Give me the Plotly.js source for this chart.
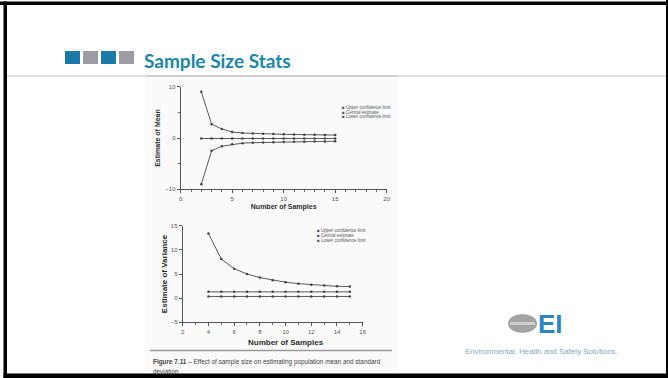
<!DOCTYPE html>
<html>
<head>
<meta charset="utf-8">
<script src="https://cdn.plot.ly/plotly-3.0.1.min.js"></script>
<style>
html,body{margin:0;padding:0;background:#fff;}
#chart{width:668px;height:378px;}
</style>
</head>
<body>
<div id="chart"></div>
<script>
// ---- Data ----
var meanSamples = [2,3,4,5,6,7,8,9,10,11,12,13,14,15];
var meanUpper   = [9.0,2.7,1.75,1.17,0.97,0.88,0.82,0.77,0.72,0.68,0.65,0.62,0.59,0.57];
var meanCentral = [-0.1,-0.1,-0.1,-0.1,-0.1,-0.1,-0.1,-0.1,-0.1,-0.1,-0.1,-0.1,-0.1,-0.1];
var meanLower   = [-9.0,-2.5,-1.6,-1.23,-1.0,-0.92,-0.86,-0.81,-0.77,-0.74,-0.71,-0.68,-0.66,-0.64];

var varSamples = [4,5,6,7,8,9,10,11,12,13,14,15];
var varUpper   = [13.4,8.1,6.1,5.0,4.25,3.7,3.3,3.0,2.8,2.6,2.45,2.4];
var varCentral = [1.3,1.3,1.3,1.3,1.3,1.3,1.3,1.3,1.3,1.3,1.3,1.3];
var varLower   = [0.35,0.35,0.35,0.35,0.35,0.35,0.35,0.35,0.35,0.35,0.35,0.35];

var legendLabels = ["Upper confidence limit","Central estimate","Lower confidence limit"];
var xTitle = "Number of Samples";
var slideTitle = "Sample Size Stats";
var captionBold = "Figure 7.11";
var captionText = " – Effect of sample size on estimating population mean and standard";
var captionText2 = "deviation";
var logoText = "EI";
var logoTagline = "Environmental, Health and Safety Solutions.";

// ---- helpers: pixel -> paper ----
var W = 668, H = 378;
function px(x){ return x / W; }
function py(y){ return 1 - y / H; }

var lineCol = '#5a5a5a';
function series(x, y, xa, ya, name){
  return {x:x, y:y, xaxis:xa, yaxis:ya, name:name, type:'scatter', mode:'lines+markers',
          line:{color:lineCol, width:1}, marker:{color:'#444', size:2.5, symbol:'circle'},
          showlegend:false, hoverinfo:'x+y'};
}

var data = [
  series(meanSamples, meanUpper, 'x', 'y', legendLabels[0]),
  series(meanSamples, meanCentral, 'x', 'y', legendLabels[1]),
  series(meanSamples, meanLower, 'x', 'y', legendLabels[2]),
  series(varSamples, varUpper, 'x2', 'y2', legendLabels[0]),
  series(varSamples, varCentral, 'x2', 'y2', legendLabels[1]),
  series(varSamples, varLower, 'x2', 'y2', legendLabels[2])
];

var fam = 'Liberation Sans, Arial, sans-serif';
var axFont = {family:fam, size:6, color:'#555'};
var titleFont = {family:fam, size:7, color:'#2e2e2e'};
function axis(opts){
  var base = {showline:true, linecolor:'#555', linewidth:1, showgrid:false, zeroline:false,
              ticks:'outside', ticklen:3, tickwidth:1, tickcolor:'#555', tickfont:axFont,
              fixedrange:true, automargin:false};
  for (var k in opts) base[k] = opts[k];
  return base;
}

var annotations = [];
function legendAnn(xp, yps, size){
  for (var i=0;i<legendLabels.length;i++){
    annotations.push({xref:'paper', yref:'paper', x:px(xp), y:py(yps[i]), xanchor:'left', yanchor:'middle',
      text:'■ ' + legendLabels[i], showarrow:false, font:{family:fam, size:size, color:'#555'}});
  }
}
legendAnn(340, [107.5, 112, 116.5], 4.5);
legendAnn(315, [230.5, 235.5, 240.5], 4.5);

// bottom chart x title (centred under x = 10 as in the scan)
annotations.push({xref:'x2', yref:'paper', x:10, y:py(342), xanchor:'center', yanchor:'middle',
  text:'<b>'+xTitle+'</b>', showarrow:false, font:{family:fam, size:8, color:'#2e2e2e'}});

// slide title
annotations.push({xref:'paper', yref:'paper', x:px(142), y:py(60), xanchor:'left', yanchor:'middle',
  text:'<b>'+slideTitle+'</b>', showarrow:false, font:{family:'Lato, Open Sans, sans-serif', size:19, color:'#1a85ad'}});
// caption
annotations.push({xref:'paper', yref:'paper', x:px(151), y:py(361.5), xanchor:'left', yanchor:'middle',
  text:'<b>'+captionBold+'</b>'+captionText, showarrow:false, font:{family:fam, size:6.4, color:'#444'}});
annotations.push({xref:'paper', yref:'paper', x:px(151), y:py(371.5), xanchor:'left', yanchor:'middle',
  text:captionText2, showarrow:false, font:{family:fam, size:6.4, color:'#444'}});
// logo
annotations.push({xref:'paper', yref:'paper', x:px(536), y:py(324), xanchor:'left', yanchor:'middle',
  text:'<b>'+logoText+'</b>', showarrow:false, font:{family:fam, size:26, color:'#2c86c4'}});
annotations.push({xref:'paper', yref:'paper', x:px(541), y:py(351.5), xanchor:'center', yanchor:'middle',
  text:logoTagline, showarrow:false, font:{family:fam, size:7.8, color:'#86a9c4'}});

var shapes = [
  // scanned figure background
  {type:'rect', xref:'paper', yref:'paper', x0:px(145), x1:px(398), y0:py(373), y1:py(77), fillcolor:'#fafafa', line:{width:0}, layer:'below'},
  // slide separator line
  {type:'line', xref:'paper', yref:'paper', x0:px(7), x1:px(668), y0:py(76), y1:py(76), line:{color:'#e3e3e3', width:2}},
  {type:'line', xref:'paper', yref:'paper', x0:px(145), x1:px(398), y0:py(76), y1:py(76), line:{color:'#d0d0d0', width:2}},
  // figure separator under bottom chart
  {type:'line', xref:'paper', yref:'paper', x0:px(150), x1:px(392), y0:py(350.5), y1:py(350.5), line:{color:'#9a9a9a', width:1.5}},
  // title squares
  {type:'rect', xref:'paper', yref:'paper', x0:px(65), x1:px(80), y0:py(64), y1:py(51), fillcolor:'#1b7ba8', line:{width:0}},
  {type:'rect', xref:'paper', yref:'paper', x0:px(83), x1:px(98), y0:py(64), y1:py(51), fillcolor:'#9c9ca2', line:{width:0}},
  {type:'rect', xref:'paper', yref:'paper', x0:px(101), x1:px(116), y0:py(64), y1:py(51), fillcolor:'#1b7ba8', line:{width:0}},
  {type:'rect', xref:'paper', yref:'paper', x0:px(119), x1:px(134), y0:py(64), y1:py(51), fillcolor:'#9c9ca2', line:{width:0}},
  // logo ellipse
  {type:'circle', xref:'paper', yref:'paper', x0:px(508), x1:px(537), y0:py(333), y1:py(314), fillcolor:'#a3a3a3', line:{width:0}},
  {type:'rect', xref:'paper', yref:'paper', x0:px(510), x1:px(535), y0:py(325), y1:py(322), fillcolor:'#cfcfcf', line:{width:0}},
  // black frame
  {type:'rect', xref:'paper', yref:'paper', x0:0, x1:1, y0:py(5), y1:py(1.5), fillcolor:'#000', line:{width:0}},
  {type:'rect', xref:'paper', yref:'paper', x0:px(3.5), x1:px(7), y0:0, y1:py(1.5), fillcolor:'#000', line:{width:0}},
  {type:'rect', xref:'paper', yref:'paper', x0:px(3.5), x1:1, y0:0, y1:py(373.5), fillcolor:'#000', line:{width:0}},
  {type:'rect', xref:'paper', yref:'paper', x0:px(666), x1:1, y0:0, y1:1, fillcolor:'#000', line:{width:0}}
];

var layout = {
  width:W, height:H, margin:{l:0, r:0, t:0, b:0, pad:0},
  paper_bgcolor:'#ffffff', plot_bgcolor:'rgba(0,0,0,0)', showlegend:false,
  xaxis: axis({domain:[px(180.7), px(386.7)], range:[0,20], dtick:5, tick0:0, anchor:'y',
    minor:{dtick:1, ticks:'outside', ticklen:2, tickcolor:'#666', showgrid:false},
    title:{text:'<b>'+xTitle+'</b>', font:titleFont, standoff:3}}),
  yaxis: axis({domain:[py(189.3), py(86.7)], range:[-10,10], dtick:10, tick0:0, anchor:'x',
    minor:{dtick:5, ticks:'outside', ticklen:2, tickcolor:'#666', showgrid:false},
    title:{text:'<b>Estimate of Mean</b>', font:titleFont, standoff:3}}),
  xaxis2: axis({domain:[px(182.7), px(362.7)], range:[2,16], dtick:2, tick0:0, anchor:'y2',
    minor:{dtick:1, ticks:'outside', ticklen:2, tickcolor:'#666', showgrid:false}}),
  yaxis2: axis({domain:[py(322.3), py(225.7)], range:[-5,15], dtick:5, tick0:0, anchor:'x2',
    title:{text:'<b>Estimate of Variance</b>', font:{family:fam, size:8, color:'#2e2e2e'}, standoff:1}}),
  annotations: annotations,
  shapes: shapes
};

Plotly.newPlot('chart', data, layout, {staticPlot:true, displayModeBar:false});
</script>
</body>
</html>
